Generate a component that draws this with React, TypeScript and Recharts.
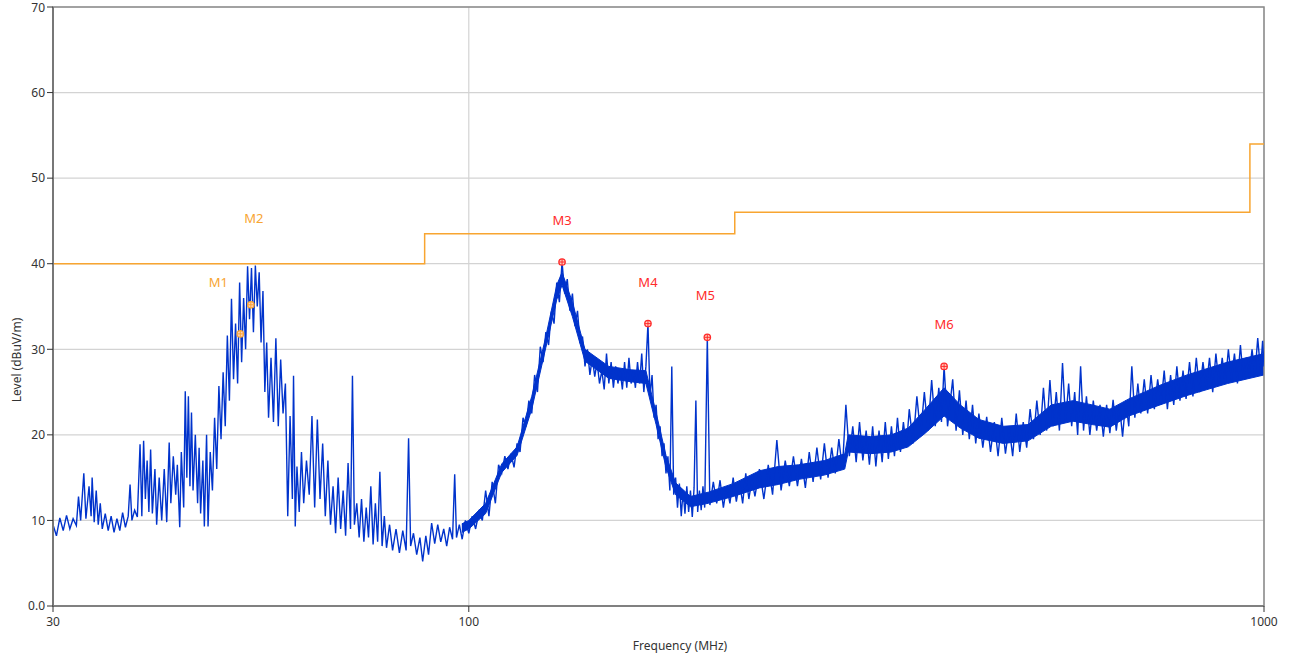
import {
  ComposedChart,
  Line,
  Area,
  Scatter,
  XAxis,
  YAxis,
  CartesianGrid,
  ReferenceArea,
} from "recharts";

const traceSamples: [number, number][] = [
  [30.0, 9.5], [30.3, 8.2], [30.6, 10.3], [30.9, 8.8], [31.2, 10.6], [31.5, 9.0],
  [31.8, 10.2], [32.1, 9.4], [32.3, 12.8], [32.5, 10.0], [32.8, 15.5], [33.0, 10.2],
  [33.3, 14.0], [33.5, 10.5], [33.6, 15.0], [33.8, 9.8], [34.0, 13.5], [34.2, 9.5],
  [34.4, 12.0], [34.6, 9.0], [34.9, 10.8], [35.2, 8.8], [35.5, 10.5], [35.8, 8.6],
  [36.1, 10.2], [36.4, 8.8], [36.7, 10.9], [37.0, 9.2], [37.3, 10.5], [37.5, 14.2],
  [37.7, 10.0], [38.0, 11.2], [38.3, 10.4], [38.6, 18.9], [38.8, 10.5], [39.0, 19.3],
  [39.2, 12.5], [39.4, 17.0], [39.6, 11.0], [39.8, 18.3], [40.0, 10.8], [40.3, 16.0],
  [40.5, 9.5], [40.8, 15.0], [41.1, 10.0], [41.4, 16.0], [41.7, 9.8], [42.0, 19.1],
  [42.2, 12.0], [42.5, 17.5], [42.8, 13.0], [43.0, 16.5], [43.3, 9.2], [43.5, 18.0],
  [43.8, 11.5], [44.0, 25.1], [44.2, 15.0], [44.4, 24.5], [44.6, 14.0], [44.8, 22.6],
  [45.0, 13.5], [45.3, 20.0], [45.6, 12.0], [45.8, 18.5], [46.0, 10.8], [46.3, 17.0],
  [46.5, 9.3], [46.8, 20.0], [47.0, 9.3], [47.3, 18.0], [47.6, 13.5], [47.9, 22.0],
  [48.2, 16.0], [48.5, 25.7], [48.8, 19.5], [49.1, 27.3], [49.4, 21.0], [49.7, 31.6],
  [50.0, 24.0], [50.3, 35.9], [50.6, 26.5], [50.9, 33.0], [51.2, 26.0], [51.5, 37.8],
  [51.8, 28.5], [52.1, 36.0], [52.4, 30.0], [52.7, 39.7], [53.0, 33.5], [53.3, 39.5],
  [53.6, 32.0], [53.9, 39.8], [54.2, 35.0], [54.5, 39.0], [54.8, 30.8], [55.1, 36.8],
  [55.4, 25.0], [55.7, 30.8], [56.0, 22.0], [56.4, 29.0], [56.8, 21.5], [57.2, 31.3],
  [57.6, 21.0], [58.0, 28.8], [58.4, 22.5], [58.8, 26.0], [59.2, 10.5], [59.6, 22.2],
  [60.0, 12.5], [60.2, 26.9], [60.5, 9.3], [60.8, 16.3], [61.2, 11.0], [61.6, 18.0],
  [62.0, 12.0], [62.5, 17.0], [63.0, 13.0], [63.5, 22.2], [64.0, 11.5], [64.5, 21.8],
  [65.0, 12.5], [65.5, 19.0], [66.0, 10.5], [66.5, 17.0], [67.0, 9.5], [67.5, 14.0],
  [68.0, 8.5], [68.5, 15.0], [69.0, 9.0], [69.5, 13.5], [70.0, 8.2], [70.5, 16.7],
  [71.0, 9.0], [71.4, 26.9], [71.8, 9.5], [72.3, 12.0], [72.8, 8.0], [73.3, 12.5],
  [73.8, 7.5], [74.3, 11.5], [74.8, 8.0], [75.3, 14.0], [75.8, 7.2], [76.3, 12.0],
  [76.8, 7.5], [77.3, 15.7], [77.8, 7.0], [78.3, 10.5], [78.8, 6.8], [79.5, 9.5],
  [80.2, 6.5], [81.0, 9.0], [81.8, 6.2], [82.6, 8.8], [83.4, 6.5], [84.0, 19.6],
  [84.5, 7.0], [85.2, 8.5], [86.0, 6.0], [86.8, 8.0], [87.5, 5.2], [88.3, 8.2],
  [89.0, 6.0], [89.8, 9.7], [90.6, 7.3], [91.4, 9.5], [92.2, 7.5], [93.0, 9.0],
  [93.8, 7.0], [94.6, 9.2], [95.4, 7.8], [96.0, 15.4], [96.5, 8.0], [97.3, 9.5],
  [98.1, 7.8], [99.0, 10.0], [100, 8.5], [101, 10.5], [102, 9.0], [103, 11.0],
  [104, 10.0], [105, 13.5], [106, 10.5], [107, 14.5], [108, 12.0], [109, 16.5],
  [110, 15.5], [111, 17.5], [112, 16.0], [113, 17.8], [114, 16.2], [115, 19.0],
  [116, 18.0], [117, 22.0], [118, 21.0], [119, 24.0], [120, 22.5], [121, 27.0],
  [122, 25.0], [123, 30.3], [124, 28.5], [125, 32.0], [126, 30.5], [127, 34.4],
  [128, 33.0], [129, 37.8], [130, 35.5], [131, 40.2], [132, 36.5], [133, 38.2],
  [134, 34.5], [135, 36.5], [136, 32.7], [137, 34.5], [138, 30.7], [139, 31.5],
  [140, 28.0], [141, 30.0], [142, 27.0], [143, 29.0], [144, 26.8], [145, 28.5],
  [146, 26.0], [147, 27.5], [148, 25.3], [149, 29.5], [150, 26.0], [151, 28.5],
  [152, 25.5], [153, 28.0], [154, 26.0], [155, 27.5], [156, 25.3], [157, 28.5],
  [158, 25.5], [159, 29.0], [160, 26.0], [161, 27.5], [162, 25.5], [163, 28.5],
  [164, 26.0], [165, 29.5], [166, 25.0], [167, 28.0], [168, 33.0], [169, 24.5],
  [170, 27.0], [171, 22.0], [172, 23.5], [173, 19.5], [174, 21.0], [175, 17.5],
  [176, 19.0], [177, 15.5], [178, 17.5], [179, 13.5], [180, 28.0], [181, 13.0],
  [182, 15.0], [183, 11.5], [184, 14.3], [185, 10.5], [186, 13.5], [187, 10.8],
  [188, 14.0], [189, 11.0], [190, 13.5], [191, 10.4], [192, 13.8], [193, 24.0],
  [194, 11.0], [195, 13.5], [196, 11.2], [197, 14.0], [198, 11.5], [199.5, 31.4],
  [201, 11.8], [203, 14.5], [205, 12.0], [207, 14.7], [209, 11.5], [211, 14.0],
  [213, 12.0], [215, 15.0], [217, 12.2], [219, 14.5], [221, 12.0], [223, 15.5],
  [225, 12.5], [227, 14.8], [229, 12.8], [232, 16.0], [235, 12.5], [238, 16.5],
  [241, 13.0], [244, 19.4], [247, 13.5], [250, 17.0], [253, 14.0], [256, 17.5],
  [259, 14.0], [262, 17.2], [265, 13.8], [268, 18.0], [271, 14.5], [274, 18.5],
  [277, 14.8], [280, 19.0], [283, 15.0], [286, 18.5], [289, 15.5], [292, 19.5],
  [295, 16.0], [298, 23.5], [301, 17.5], [304, 21.0], [307, 16.8], [310, 21.5],
  [313, 17.0], [316, 20.5], [319, 16.5], [322, 21.0], [325, 16.3], [328, 20.5],
  [331, 16.8], [334, 21.5], [337, 17.2], [340, 21.0], [343, 17.5], [346, 22.0],
  [349, 18.0], [352, 21.5], [355, 18.5], [358, 23.0], [362, 19.0], [366, 24.5],
  [370, 20.0], [374, 25.0], [378, 20.5], [382, 26.4], [386, 21.0], [390, 25.5],
  [393, 21.5], [396, 28.0], [400, 21.0], [406, 26.5], [410, 20.5], [414, 25.2],
  [418, 20.0], [422, 24.0], [426, 19.5], [430, 23.5], [434, 19.0], [438, 22.5],
  [443, 18.5], [448, 22.1], [453, 18.0], [458, 21.5], [463, 17.5], [468, 22.0],
  [473, 17.8], [478, 21.0], [483, 17.5], [488, 22.5], [493, 18.0], [498, 21.5],
  [503, 18.5], [508, 23.0], [513, 19.5], [518, 24.0], [523, 20.0], [528, 25.5],
  [533, 20.5], [538, 26.4], [543, 21.0], [548, 25.0], [553, 20.5], [558, 28.4],
  [563, 21.5], [568, 26.0], [573, 21.0], [578, 25.0], [583, 20.0], [588, 28.0],
  [593, 20.5], [598, 24.5], [604, 20.0], [610, 24.0], [616, 20.5], [622, 23.5],
  [628, 19.8], [634, 23.5], [640, 20.2], [646, 24.1], [652, 20.5], [658, 23.5],
  [664, 19.8], [670, 24.0], [676, 21.0], [682, 28.0], [688, 22.0], [694, 26.0],
  [700, 22.5], [707, 26.5], [714, 22.5], [721, 27.0], [728, 23.0], [735, 26.5],
  [742, 23.5], [749, 27.5], [756, 23.0], [763, 27.0], [770, 23.5], [777, 28.0],
  [784, 24.0], [791, 27.5], [798, 24.2], [806, 28.5], [814, 24.5], [822, 29.0],
  [830, 25.0], [838, 28.5], [846, 25.5], [854, 29.0], [862, 25.0], [870, 29.5],
  [878, 25.8], [886, 29.0], [894, 26.0], [902, 30.0], [910, 26.5], [918, 29.5],
  [926, 26.0], [934, 30.5], [942, 26.5], [950, 29.0], [958, 27.0], [966, 30.0],
  [974, 27.0], [982, 31.3], [990, 27.5], [996, 31.0], [1000, 28.0],
];

// solid core of the noise band above 100 MHz: frequency, lower edge, upper edge
const bandFreq = [
  98, 100, 105, 110, 115, 120, 125, 129, 131, 135, 140, 150, 160, 167, 172, 177, 182,
  190, 200, 215, 232, 245, 260, 280, 297, 300, 320, 340, 357, 375, 396, 415, 438, 470,
  505, 540, 575, 608, 640, 676, 740, 800, 900, 1000,
];
const bandLow = [
  8.6, 9.0, 10.8, 15.6, 17.6, 23.0, 30.2, 35.8, 37.5, 33.8, 28.6, 26.6, 26.2, 26.0,
  21.2, 16.2, 13.0, 11.6, 12.0, 12.8, 13.8, 14.2, 14.8, 15.3, 16.0, 18.0, 17.8, 18.0,
  18.6, 20.2, 22.2, 20.8, 19.6, 19.0, 19.3, 21.0, 21.6, 21.2, 20.9, 22.2, 23.5, 24.6,
  26.0, 27.0,
];
const bandHigh = [
  9.6, 10.0, 12.0, 16.6, 18.6, 24.5, 31.5, 37.5, 39.0, 35.5, 30.0, 28.0, 27.6, 27.5,
  22.6, 17.6, 14.4, 12.8, 13.3, 14.3, 15.8, 16.3, 16.5, 17.0, 17.8, 20.0, 19.8, 20.0,
  20.8, 23.0, 25.5, 23.5, 21.8, 21.0, 21.2, 23.5, 24.0, 23.5, 23.0, 24.2, 25.8, 27.0,
  28.5, 29.5,
];

// limit line (step)
const limitFreq = [30, 88, 216, 960, 1000];
const limitLevel = [40, 43.5, 46, 54, 54];

// markers
const markerNames = ["M1", "M2", "M3", "M4", "M5", "M6"];
const markerFreq = [51.6, 53.2, 131, 168, 199.5, 396];
const markerLevel = [31.8, 35.2, 40.2, 33.0, 31.4, 28.0];

const xTicks = [30, 100, 1000];
const yTicks = [0, 10, 20, 30, 40, 50, 60, 70];

const BLUE = "#0033cc";
const ORANGE = "#f8a531";
const RED = "#ff2b2b";
const FONT = "'Noto Sans', 'Open Sans', sans-serif";

// label offsets relative to each marker (px)
const markerStyle = [
  { color: ORANGE, dx: -22, dy: -52 },
  { color: ORANGE, dx: 3, dy: -87 },
  { color: RED, dx: 0, dy: -42 },
  { color: RED, dx: 0, dy: -42 },
  { color: RED, dx: -2, dy: -42 },
  { color: RED, dx: 0, dy: -42 },
];

const traceData = traceSamples.map(([f, v]) => ({ f, v }));
const bandData = bandFreq.map((f, i) => ({ f, r: [bandLow[i], bandHigh[i]] }));
const limitData = limitFreq.map((f, i) => ({ f, v: limitLevel[i] }));
const markerData = markerNames.map((name, i) => ({
  name,
  f: markerFreq[i],
  v: markerLevel[i],
  idx: i,
}));

function MarkerShape(props: any) {
  const { cx, cy, payload } = props;
  const s = markerStyle[payload.idx];
  return (
    <g>
      <circle cx={cx} cy={cy} r={3.2} fill="#ffd0c0" stroke={s.color} strokeWidth={1.3} />
      <line x1={cx - 3} y1={cy} x2={cx + 3} y2={cy} stroke={s.color} strokeWidth={1} />
      <line x1={cx} y1={cy - 3} x2={cx} y2={cy + 3} stroke={s.color} strokeWidth={1} />
      <text
        x={cx + s.dx}
        y={cy + s.dy + 5}
        textAnchor="middle"
        fontSize={13}
        fontFamily={FONT}
        fill={s.color}
      >
        {payload.name}
      </text>
    </g>
  );
}

export default function App() {
  return (
    <div style={{ position: "absolute", left: 0, top: 0, background: "#fff" }}>
      <ComposedChart
        width={1292}
        height={659}
        margin={{ top: 7, right: 28, left: 0, bottom: 0 }}
        style={{ fontFamily: FONT }}
      >
        <CartesianGrid stroke="#d3d3d3" strokeWidth={1.2} />
        <XAxis
          type="number"
          dataKey="f"
          scale="log"
          domain={[30, 1000]}
          ticks={xTicks}
          allowDataOverflow
          height={53}
          tickSize={6}
          tickMargin={5}
          axisLine={{ stroke: "#808080", strokeWidth: 2 }}
          tickLine={{ stroke: "#333" }}
          tick={{ fontSize: 12, fill: "#333", fontFamily: FONT }}
          label={{
            content: () => (
              <text x={680} y={650} textAnchor="middle" fontSize={12} fill="#333" fontFamily={FONT}>
                Frequency (MHz)
              </text>
            ),
          }}
        />
        <YAxis
          type="number"
          dataKey="v"
          domain={[0, 70]}
          ticks={yTicks}
          allowDataOverflow
          width={53}
          tickSize={6}
          tickMargin={2}
          axisLine={{ stroke: "#777", strokeWidth: 2 }}
          tickLine={{ stroke: "#333" }}
          tick={{ fontSize: 12, fill: "#333", fontFamily: FONT }}
          tickFormatter={(v: number) => (v === 0 ? "0.0" : String(v))}
          label={{
            content: () => (
              <text
                x={18}
                y={360}
                transform="rotate(-90 18 360)"
                textAnchor="middle"
                dominantBaseline="middle"
                fontSize={12}
                fill="#333"
                fontFamily={FONT}
              >
                Level (dBuV/m)
              </text>
            ),
          }}
        />
        <Line
          data={limitData}
          dataKey="v"
          type="stepAfter"
          stroke={ORANGE}
          strokeWidth={1.5}
          dot={false}
          activeDot={false}
          isAnimationActive={false}
        />
        <Area
          data={bandData}
          dataKey="r"
          type="linear"
          stroke={BLUE}
          strokeWidth={1}
          fill={BLUE}
          fillOpacity={1}
          dot={false}
          activeDot={false}
          isAnimationActive={false}
        />
        <Line
          data={traceData}
          dataKey="v"
          type="linear"
          stroke={BLUE}
          strokeWidth={1.4}
          dot={false}
          activeDot={false}
          isAnimationActive={false}
        />
        <Scatter
          data={markerData}
          dataKey="v"
          shape={MarkerShape}
          isAnimationActive={false}
        />
        <ReferenceArea
          x1={30}
          x2={1000}
          y1={0}
          y2={70}
          fill="none"
          fillOpacity={0}
          stroke="#8a8a8a"
          strokeWidth={1.5}
        />
      </ComposedChart>
    </div>
  );
}
